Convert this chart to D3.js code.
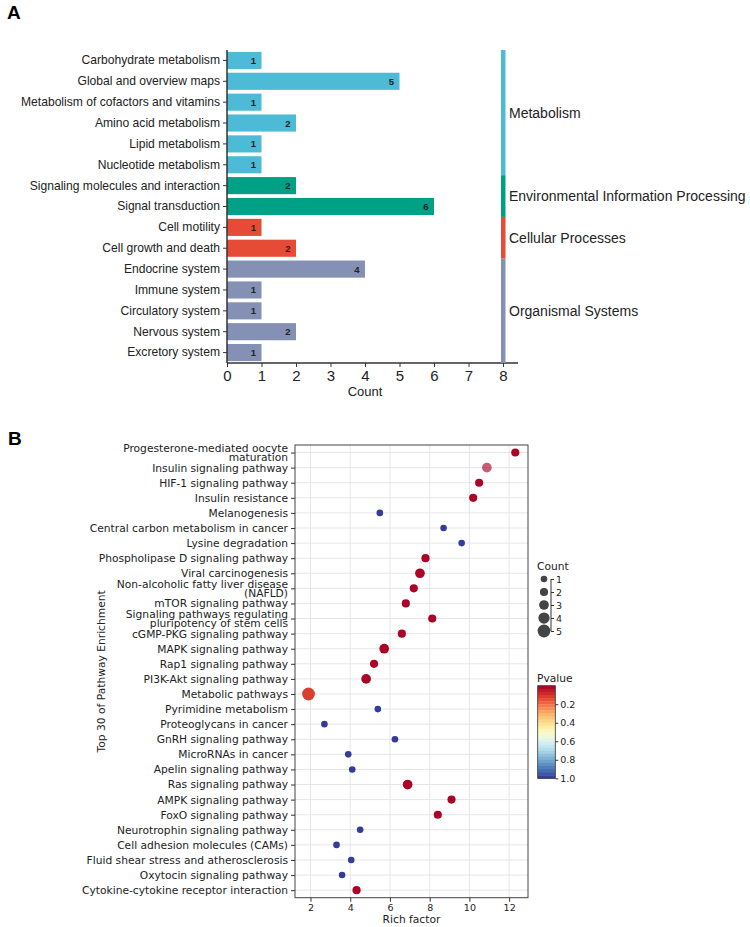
<!DOCTYPE html>
<html><head><meta charset="utf-8">
<script src="https://cdn.jsdelivr.net/npm/d3@7"></script>
<style>body{margin:0;background:#fff}</style>
</head><body>
<script>
// ---------- Panel A data ----------
const categoriesA = ["Carbohydrate metabolism","Global and overview maps","Metabolism of cofactors and vitamins","Amino acid metabolism","Lipid metabolism","Nucleotide metabolism","Signaling molecules and interaction","Signal transduction","Cell motility","Cell growth and death","Endocrine system","Immune system","Circulatory system","Nervous system","Excretory system"];
const countsA = [1,5,1,2,1,1,2,6,1,2,4,1,1,2,1];
const groupOfA = ["Metabolism","Metabolism","Metabolism","Metabolism","Metabolism","Metabolism","Environmental Information Processing","Environmental Information Processing","Cellular Processes","Cellular Processes","Organismal Systems","Organismal Systems","Organismal Systems","Organismal Systems","Organismal Systems"];
const groupsA = ["Metabolism","Environmental Information Processing","Cellular Processes","Organismal Systems"];
const groupColors = ["#4DBBD5","#00A087","#E64B35","#8491B4"];
const xTicksA = [0,1,2,3,4,5,6,7,8];

// ---------- Panel B data ----------
const pathways = ["Progesterone-mediated oocyte\nmaturation","Insulin signaling pathway","HIF-1 signaling pathway","Insulin resistance","Melanogenesis","Central carbon metabolism in cancer","Lysine degradation","Phospholipase D signaling pathway","Viral carcinogenesis","Non-alcoholic fatty liver disease\n(NAFLD)","mTOR signaling pathway","Signaling pathways regulating\npluripotency of stem cells","cGMP-PKG signaling pathway","MAPK signaling pathway","Rap1 signaling pathway","PI3K-Akt signaling pathway","Metabolic pathways","Pyrimidine metabolism","Proteoglycans in cancer","GnRH signaling pathway","MicroRNAs in cancer","Apelin signaling pathway","Ras signaling pathway","AMPK signaling pathway","FoxO signaling pathway","Neurotrophin signaling pathway","Cell adhesion molecules (CAMs)","Fluid shear stress and atherosclerosis","Oxytocin signaling pathway","Cytokine-cytokine receptor interaction"];
const richFactor = [12.31,10.88,10.49,10.19,5.49,8.70,9.61,7.79,7.51,7.20,6.80,8.13,6.60,5.71,5.20,4.80,1.90,5.39,2.70,6.25,3.90,4.10,6.89,9.10,8.41,4.50,3.31,4.05,3.59,4.32];
const countB = [2,3,2,2,1,1,1,2,3,2,2,2,2,3,2,3,5,1,1,1,1,1,3,2,2,1,1,1,1,2];
const pvalue = [0.01,0.01,0.01,0.01,0.99,0.99,0.99,0.01,0.01,0.01,0.01,0.01,0.01,0.01,0.01,0.01,0.12,0.99,0.99,0.99,0.99,0.99,0.01,0.01,0.01,0.99,0.99,0.99,0.99,0.01];
const fadedPathways = ["Insulin signaling pathway"];
const xTicksB = [2,4,6,8,10,12];
const countLegend = [1,2,3,4,5];
const pTicks = [0.2,0.4,0.6,0.8,1.0];

const W = 750, H = 927;
const svg = d3.select("body").append("svg").attr("width", W).attr("height", H);

// ================= Panel A =================
const fA = "Liberation Sans, Arial, sans-serif";
svg.append("text").attr("x", 7).attr("y", 19).text("A")
  .attr("font-family", fA).attr("font-weight", "bold").attr("font-size", 19);

const xA = d3.scaleLinear().domain([0, 8]).range([227, 503]);
const yA = d3.scaleBand().domain(categoriesA).range([50, 363]).paddingInner(0.18).paddingOuter(0.09);
const bandA = d3.scaleBand().domain(categoriesA).range([50, 363]);
const colA = d3.scaleOrdinal().domain(groupsA).range(groupColors);

const gA = svg.append("g");
gA.selectAll("rect.bar").data(categoriesA).join("rect").attr("class", "bar")
  .attr("x", xA(0)).attr("y", d => yA(d))
  .attr("width", (d, i) => xA(countsA[i]) - xA(0)).attr("height", yA.bandwidth())
  .attr("fill", (d, i) => colA(groupOfA[i]));

gA.selectAll("text.val").data(categoriesA).join("text").attr("class", "val")
  .attr("x", (d, i) => xA(countsA[i]) - 8).attr("y", d => yA(d) + yA.bandwidth() / 2 + 3.5)
  .attr("text-anchor", "middle").attr("font-family", fA).attr("font-size", 9.5).attr("font-weight", "bold")
  .attr("fill", "#222").text((d, i) => countsA[i]);

// y axis
const yAxA = gA.append("g").attr("transform", `translate(${xA(0)},0)`)
  .call(d3.axisLeft(bandA).tickSize(4).tickPadding(3));
yAxA.select(".domain").attr("stroke", "#333").attr("stroke-width", 1.5).attr("d", "M0,50V363");
yAxA.selectAll(".tick line").attr("stroke", "#333");
yAxA.selectAll(".tick text").attr("font-family", fA).attr("font-size", 12.1).attr("fill", "#222");

// x axis
const xAxA = gA.append("g").attr("transform", "translate(0,363)")
  .call(d3.axisBottom(xA).tickValues(xTicksA).tickSize(4).tickPadding(3).tickFormat(d3.format("d")));
xAxA.select(".domain").attr("stroke", "#333").attr("stroke-width", 1.5).attr("d", "M227,0H518");
xAxA.selectAll(".tick line").attr("stroke", "#333");
xAxA.selectAll(".tick text").attr("font-family", fA).attr("font-size", 15).attr("fill", "#222");
gA.append("text").attr("x", 365).attr("y", 396).attr("text-anchor", "middle")
  .attr("font-family", fA).attr("font-size", 13).attr("fill", "#222").text("Count");

// group side bar
groupsA.forEach((g, gi) => {
  const members = categoriesA.filter((c, i) => groupOfA[i] === g);
  const y0 = bandA(members[0]);
  const y1 = bandA(members[members.length - 1]) + bandA.bandwidth();
  gA.append("rect").attr("x", xA(8) - 2).attr("y", y0).attr("width", 4.5).attr("height", y1 - y0)
    .attr("fill", colA(g));
  gA.append("text").attr("x", 509).attr("y", (y0 + y1) / 2 + 5)
    .attr("font-family", fA).attr("font-size", 14).attr("fill", "#222").text(g);
});

// ================= Panel B =================
const fB = "DejaVu Sans, sans-serif";
svg.append("text").attr("x", 8).attr("y", 445).text("B")
  .attr("font-family", fA).attr("font-weight", "bold").attr("font-size", 19);

const L = 295, R = 528, T = 445, B = 897.7;
const xB = d3.scaleLinear().domain([1.22, 12.95]).range([L, R]);
const yB = d3.scalePoint().domain(pathways).range([T, B]).padding(0.5);
const rB = d3.scaleLinear().domain([1, 5]).range([3.3, 6.4]);
const cB = p => d3.interpolateRdYlBu(p);
const pScale = d3.scaleLinear().domain([0, 1]).range([685.7, 778.3]);

const gB = svg.append("g");
// grid
gB.selectAll("line.vg").data(xTicksB).join("line").attr("class", "vg")
  .attr("x1", d => xB(d)).attr("x2", d => xB(d)).attr("y1", T).attr("y2", B)
  .attr("stroke", "#e6e6e6").attr("stroke-width", 1);
gB.selectAll("line.hg").data(pathways).join("line").attr("class", "hg")
  .attr("x1", L).attr("x2", R).attr("y1", d => yB(d)).attr("y2", d => yB(d))
  .attr("stroke", "#e6e6e6").attr("stroke-width", 1);

// points
gB.selectAll("circle.pt").data(pathways).join("circle").attr("class", "pt")
  .attr("cx", (d, i) => xB(richFactor[i])).attr("cy", d => yB(d))
  .attr("r", (d, i) => rB(countB[i]))
  .attr("fill", (d, i) => cB(pvalue[i]))
  .attr("fill-opacity", d => fadedPathways.includes(d) ? 0.65 : 1);

// frame
gB.append("rect").attr("x", L).attr("y", T).attr("width", R - L).attr("height", B - T)
  .attr("fill", "none").attr("stroke", "#444").attr("stroke-width", 1);

// y axis
const yAxB = gB.append("g").attr("transform", `translate(${L},0)`)
  .call(d3.axisLeft(yB).tickSize(4).tickPadding(3));
yAxB.select(".domain").remove();
yAxB.selectAll(".tick line").attr("stroke", "#333");
yAxB.selectAll(".tick text").attr("font-family", fB).attr("font-size", 10.7).attr("fill", "#222")
  .each(function(d) {
    const lines = d.split("\n");
    const t = d3.select(this);
    if (lines.length > 1) {
      t.text(null);
      lines.forEach((ln, k) => {
        t.append("tspan").attr("x", -7).attr("dy", k === 0 ? "-0.12em" : "0.88em").text(ln);
      });
    }
  });

// x axis
const xAxB = gB.append("g").attr("transform", `translate(0,${B})`)
  .call(d3.axisBottom(xB).tickValues(xTicksB).tickSize(4).tickPadding(3));
xAxB.select(".domain").remove();
xAxB.selectAll(".tick line").attr("stroke", "#333");
xAxB.selectAll(".tick text").attr("font-family", fB).attr("font-size", 9.5).attr("fill", "#222");
gB.append("text").attr("x", (L + R) / 2).attr("y", 923).attr("text-anchor", "middle")
  .attr("font-family", fB).attr("font-size", 10.7).attr("fill", "#222").text("Rich factor");
gB.append("text").attr("transform", `translate(105,${(T + B) / 2}) rotate(-90)`).attr("text-anchor", "middle")
  .attr("font-family", fB).attr("font-size", 10.7).attr("fill", "#222").text("Top 30 of Pathway Enrichment");

// Count legend
const yLeg = d3.scalePoint().domain(countLegend).range([579, 631]);
const gL = svg.append("g");
gL.append("text").attr("x", 537).attr("y", 570).attr("font-family", fB).attr("font-size", 10.7)
  .attr("fill", "#222").text("Count");
gL.selectAll("circle").data(countLegend).join("circle")
  .attr("cx", 544).attr("cy", d => yLeg(d)).attr("r", d => rB(d)).attr("fill", "#444");
const lgAx = gL.append("g").attr("transform", "translate(551,0)")
  .call(d3.axisRight(yLeg).tickSize(3).tickPadding(2));
lgAx.select(".domain").attr("stroke", "#333").attr("d", "M0,579V631");
lgAx.selectAll(".tick line").attr("stroke", "#333");
lgAx.selectAll(".tick text").attr("font-family", fB).attr("font-size", 9.5).attr("fill", "#222");

// Pvalue colorbar
const nBands = 30;
const bands = d3.range(nBands).map(i => i / nBands);
gL.append("text").attr("x", 537).attr("y", 682).attr("font-family", fB).attr("font-size", 10.7)
  .attr("fill", "#222").text("Pvalue");
gL.selectAll("rect.cb").data(bands).join("rect").attr("class", "cb")
  .attr("x", 537.7).attr("y", d => pScale(d)).attr("width", 17.6)
  .attr("height", pScale(1 / nBands) - pScale(0) + 0.3)
  .attr("fill", d => cB(d + 0.5 / nBands));
gL.append("rect").attr("x", 537.7).attr("y", 685.7).attr("width", 17.6).attr("height", 92.6)
  .attr("fill", "none").attr("stroke", "#333").attr("stroke-width", 0.8);
const cbAx = gL.append("g").attr("transform", "translate(555.3,0)")
  .call(d3.axisRight(pScale).tickValues(pTicks).tickSize(3).tickPadding(2).tickFormat(d3.format(".1f")));
cbAx.select(".domain").remove();
cbAx.selectAll(".tick line").attr("stroke", "#333");
cbAx.selectAll(".tick text").attr("font-family", fB).attr("font-size", 9.5).attr("fill", "#222");
</script>
</body></html>
